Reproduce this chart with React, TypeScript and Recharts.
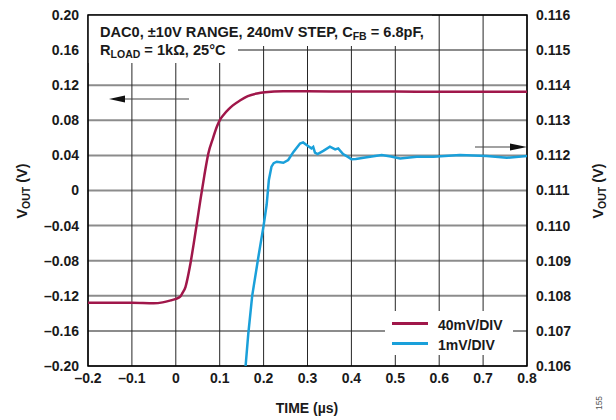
import React from "react"
import {
  LineChart,
  Line,
  XAxis,
  YAxis,
  CartesianGrid,
  ReferenceArea,
  Legend,
  Customized,
} from "recharts"

// tempos (µs) e valores
const bigTime = [
  -0.2, -0.15, -0.1, -0.05, -0.03, -0.01, 0, 0.01, 0.015, 0.022, 0.032, 0.041, 0.049, 0.056,
  0.065, 0.074, 0.085, 0.093, 0.1, 0.11, 0.12, 0.13, 0.146, 0.164, 0.185, 0.203, 0.245, 0.3, 0.4,
  0.5, 0.6, 0.7, 0.8,
]
const bigVolts = [
  -0.128, -0.128, -0.128, -0.1285, -0.1275, -0.125, -0.1235, -0.121, -0.117, -0.11, -0.087,
  -0.06, -0.034, -0.011, 0.017, 0.042, 0.06, 0.072, 0.08, 0.087, 0.0925, 0.097, 0.1025, 0.1075,
  0.1105, 0.1119, 0.113, 0.113, 0.1128, 0.1127, 0.1126, 0.1126, 0.1126,
]

const fineTime = [
  0.159, 0.165, 0.174, 0.188, 0.2, 0.207, 0.212, 0.218, 0.223, 0.23, 0.245, 0.256, 0.268, 0.283,
  0.29, 0.301, 0.309, 0.313, 0.317, 0.323, 0.336, 0.351, 0.363, 0.37, 0.381, 0.393, 0.4, 0.41,
  0.435, 0.469, 0.49, 0.511, 0.549, 0.587, 0.647, 0.708, 0.754, 0.8,
]
const fineVolts = [
  0.106, 0.1069, 0.108, 0.1091, 0.11, 0.1106, 0.1113, 0.11168, 0.11178, 0.11182, 0.11179,
  0.11187, 0.1121, 0.11234, 0.11237, 0.11227, 0.1122, 0.11224, 0.11208, 0.11204, 0.11213,
  0.11225, 0.11217, 0.1122, 0.11204, 0.11195, 0.11189, 0.1119, 0.11195, 0.11201, 0.11197,
  0.11191, 0.11196, 0.11196, 0.11201, 0.11198, 0.11193, 0.11198,
]

const xTicks = [-0.2, -0.1, 0, 0.1, 0.2, 0.3, 0.4, 0.5, 0.6, 0.7, 0.8]
const leftTicks = [-0.2, -0.16, -0.12, -0.08, -0.04, 0, 0.04, 0.08, 0.12, 0.16, 0.2]
const rightTicks = [0.106, 0.107, 0.108, 0.109, 0.11, 0.111, 0.112, 0.113, 0.114, 0.115, 0.116]

const seriesNames = ["40mV/DIV", "1mV/DIV"]

const bigData = bigTime.map((t, i) => ({ t, v: bigVolts[i] }))
const fineData = fineTime.map((t, i) => ({ t, v: fineVolts[i] }))

const RED = "#A0174A"
const BLUE = "#1AA0DA"
const FONT = "'Liberation Sans', Arial, sans-serif"

const fmt = (digits: number) => (v: number) =>
  v === 0 ? "0" : (v < 0 ? "\u2013" : "") + Math.abs(v).toFixed(digits)

const tickStyle = { fontFamily: FONT, fontSize: 14, fontWeight: 700, fill: "#1a1a1a" }
const txt = { fontFamily: FONT, fontWeight: 700, fill: "#1a1a1a" } as const

// texto das condições de teste, desenhado sobre a caixa branca
function Conditions() {
  return (
    <g>
      <text x={100} y={37} fontSize={14.6} {...txt}>
        DAC0, ±10V RANGE, 240mV STEP, C
        <tspan fontSize={10.5} dy={3}>FB</tspan>
        <tspan dy={-3}> = 6.8pF,</tspan>
      </text>
      <text x={100} y={55} fontSize={14.6} {...txt}>
        R<tspan fontSize={10.5} dy={3}>LOAD</tspan>
        <tspan dy={-3}> = 1kΩ, 25°C</tspan>
      </text>
    </g>
  )
}

function Overlay() {
  return (
    <g>
      <line x1={189} y1={99} x2={120} y2={99} stroke="#444" strokeWidth={1.2} />
      <polygon points="109,99 125,95.5 125,102.5" fill="#111" />
      <line x1={475} y1={147} x2={515} y2={147} stroke="#444" strokeWidth={1.2} />
      <polygon points="527,147 510,143.5 510,150.5" fill="#111" />

      <text x={307} y={413} textAnchor="middle" fontSize={14} {...txt}>
        TIME (µs)
      </text>
      <text transform="translate(27,191) rotate(-90)" textAnchor="middle" fontSize={14.5} {...txt}>
        V<tspan fontSize={10.5} dy={3}>OUT</tspan>
        <tspan dy={-3}> (V)</tspan>
      </text>
      <text transform="translate(603,191) rotate(-90)" textAnchor="middle" fontSize={14.5} {...txt}>
        V<tspan fontSize={10.5} dy={3}>OUT</tspan>
        <tspan dy={-3}> (V)</tspan>
      </text>
      <text
        transform="translate(602,403) rotate(-90)"
        textAnchor="middle"
        fontSize={8.5}
        fontFamily={FONT}
        fill="#555"
      >
        155
      </text>
    </g>
  )
}

function LegendBox(props: any) {
  const items = [...(props.payload || [])].sort(
    (a: any, b: any) => seriesNames.indexOf(a.value) - seriesNames.indexOf(b.value)
  )
  return (
    <div style={{ background: "#fff", width: 128, height: 44, paddingTop: 4, boxSizing: "border-box" }}>
      {items.map((it: any) => (
        <div key={it.value} style={{ display: "flex", alignItems: "center", height: 20 }}>
          <div
            style={{
              width: 36,
              height: 3,
              background: it.color,
              marginLeft: 7,
              marginRight: 10,
              position: "relative",
              top: -2,
            }}
          />
          <span style={{ fontFamily: FONT, fontWeight: 700, fontSize: 14, color: "#1a1a1a" }}>
            {it.value}
          </span>
        </div>
      ))}
    </div>
  )
}

export default function App() {
  return (
    <div style={{ position: "absolute", left: 0, top: 0, width: 616, height: 420, background: "#fff" }}>
      <LineChart width={616} height={420} margin={{ top: 15, right: 0, bottom: 0, left: 0 }}>
        <CartesianGrid yAxisId="left" vertical={false} stroke="#8c8c8c" strokeWidth={2} />
        <CartesianGrid yAxisId="left" horizontal={false} stroke="#262626" strokeWidth={1} />
        <XAxis
          dataKey="t"
          type="number"
          domain={[-0.2, 0.8]}
          ticks={xTicks}
          allowDataOverflow
          height={54}
          axisLine={false}
          tickLine={false}
          tickSize={0}
          tickMargin={7}
          tickFormatter={fmt(1)}
          tick={tickStyle}
        />
        <YAxis
          yAxisId="left"
          domain={[-0.2, 0.2]}
          ticks={leftTicks}
          allowDataOverflow
          width={88}
          axisLine={false}
          tickLine={false}
          tickSize={0}
          tickMargin={9}
          tickFormatter={fmt(2)}
          tick={tickStyle}
        />
        <YAxis
          yAxisId="right"
          orientation="right"
          domain={[0.106, 0.116]}
          ticks={rightTicks}
          allowDataOverflow
          width={89}
          axisLine={false}
          tickLine={false}
          tickSize={0}
          tickMargin={9}
          tickFormatter={fmt(3)}
          tick={{ ...tickStyle, textAnchor: "start" }}
        />
        <ReferenceArea yAxisId="left" x1={-0.2} x2={0.5836} y1={0.1647} y2={0.2} fill="#fff" fillOpacity={1} stroke="none" />
        <ReferenceArea
          yAxisId="left"
          x1={-0.2}
          x2={0.1417}
          y1={0.1453}
          y2={0.2}
          fill="#fff"
          fillOpacity={1}
          stroke="none"
          label={<Conditions />}
        />
        <ReferenceArea
          yAxisId="left"
          x1={-0.2}
          x2={0.8}
          y1={-0.2}
          y2={0.2}
          fill="none"
          fillOpacity={0}
          stroke="#000"
          strokeWidth={1.5}
        />
        <Line
          yAxisId="left"
          data={bigData}
          dataKey="v"
          name={seriesNames[0]}
          type="monotone"
          stroke={RED}
          strokeWidth={2.5}
          dot={false}
          isAnimationActive={false}
        />
        <Line
          yAxisId="right"
          data={fineData}
          dataKey="v"
          name={seriesNames[1]}
          type="linear"
          stroke={BLUE}
          strokeWidth={2.5}
          dot={false}
          isAnimationActive={false}
        />
        <Customized component={Overlay} />
        <Legend
          layout="vertical"
          align="center"
          verticalAlign="middle"
          content={LegendBox}
          wrapperStyle={{ left: 385, top: 311, width: 128, height: 44 }}
        />
      </LineChart>
    </div>
  )
}
